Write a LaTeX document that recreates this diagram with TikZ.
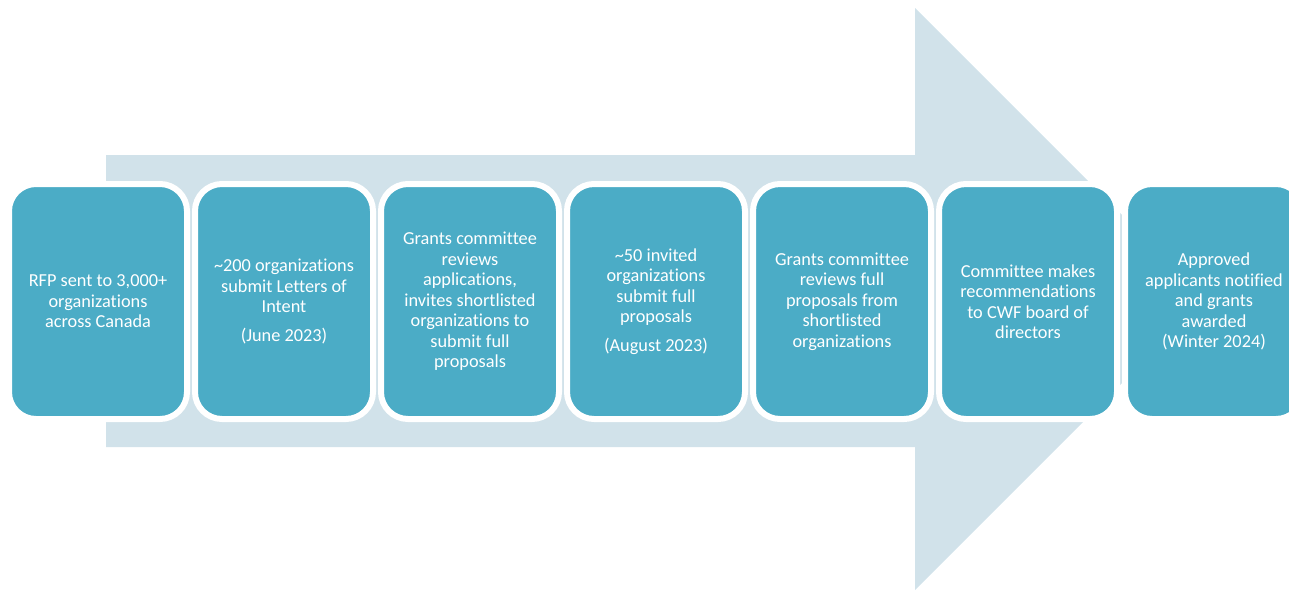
\documentclass[tikz,border=0pt]{standalone}
\usepackage{fontspec}
\setmainfont{Carlito}[Ligatures=NoCommon]
\definecolor{band}  {HTML}{D1E2EA}
\definecolor{tile}  {HTML}{4BACC6}
\definecolor{paper} {HTML}{FFFFFF}

\begin{document}
\begin{tikzpicture}[
  x=1pt, y=-1pt,
  stage/.style={draw=paper, fill=tile, line width=6pt, rounded corners=27pt,
                minimum width=178pt, minimum height=235pt, inner sep=0pt,
                align=center, text=paper, font=\fontsize{18.3}{20.5}\selectfont},
  bandfill/.style={fill=band, draw=none},
]
  \useasboundingbox (0,0) rectangle (1289,590);
  \clip (0,0) rectangle (1289,590);

  % --- the wide arrow behind the steps --------------------------
  \fill[bandfill] (106,155) -- (915,155) -- (915,8) -- (1206,299)
    -- (915,590) -- (915,447) -- (106,447) -- cycle;

  % --- the seven steps, left to right ---------------------------
  \foreach \i/\t in {
      1/{RFP sent to 3,000+\\organizations\\across Canada},
      2/{\textasciitilde200 organizations\\submit Letters of\\Intent\\[8pt](June 2023)},
      3/{Grants committee\\reviews\\applications,\\invites shortlisted\\organizations to\\submit full\\proposals},
      4/{\textasciitilde50 invited\\organizations\\submit full\\proposals\\[8pt](August 2023)},
      5/{Grants committee\\reviews full\\proposals from\\shortlisted\\organizations},
      6/{Committee makes\\recommendations\\to CWF board of\\directors},
      7/{Approved\\applicants notified\\and grants\\awarded\\(Winter 2024)}}
    \node[stage] (s\i) at ({98+186*(\i-1)},301.5) {\t};
\end{tikzpicture}
\end{document}
